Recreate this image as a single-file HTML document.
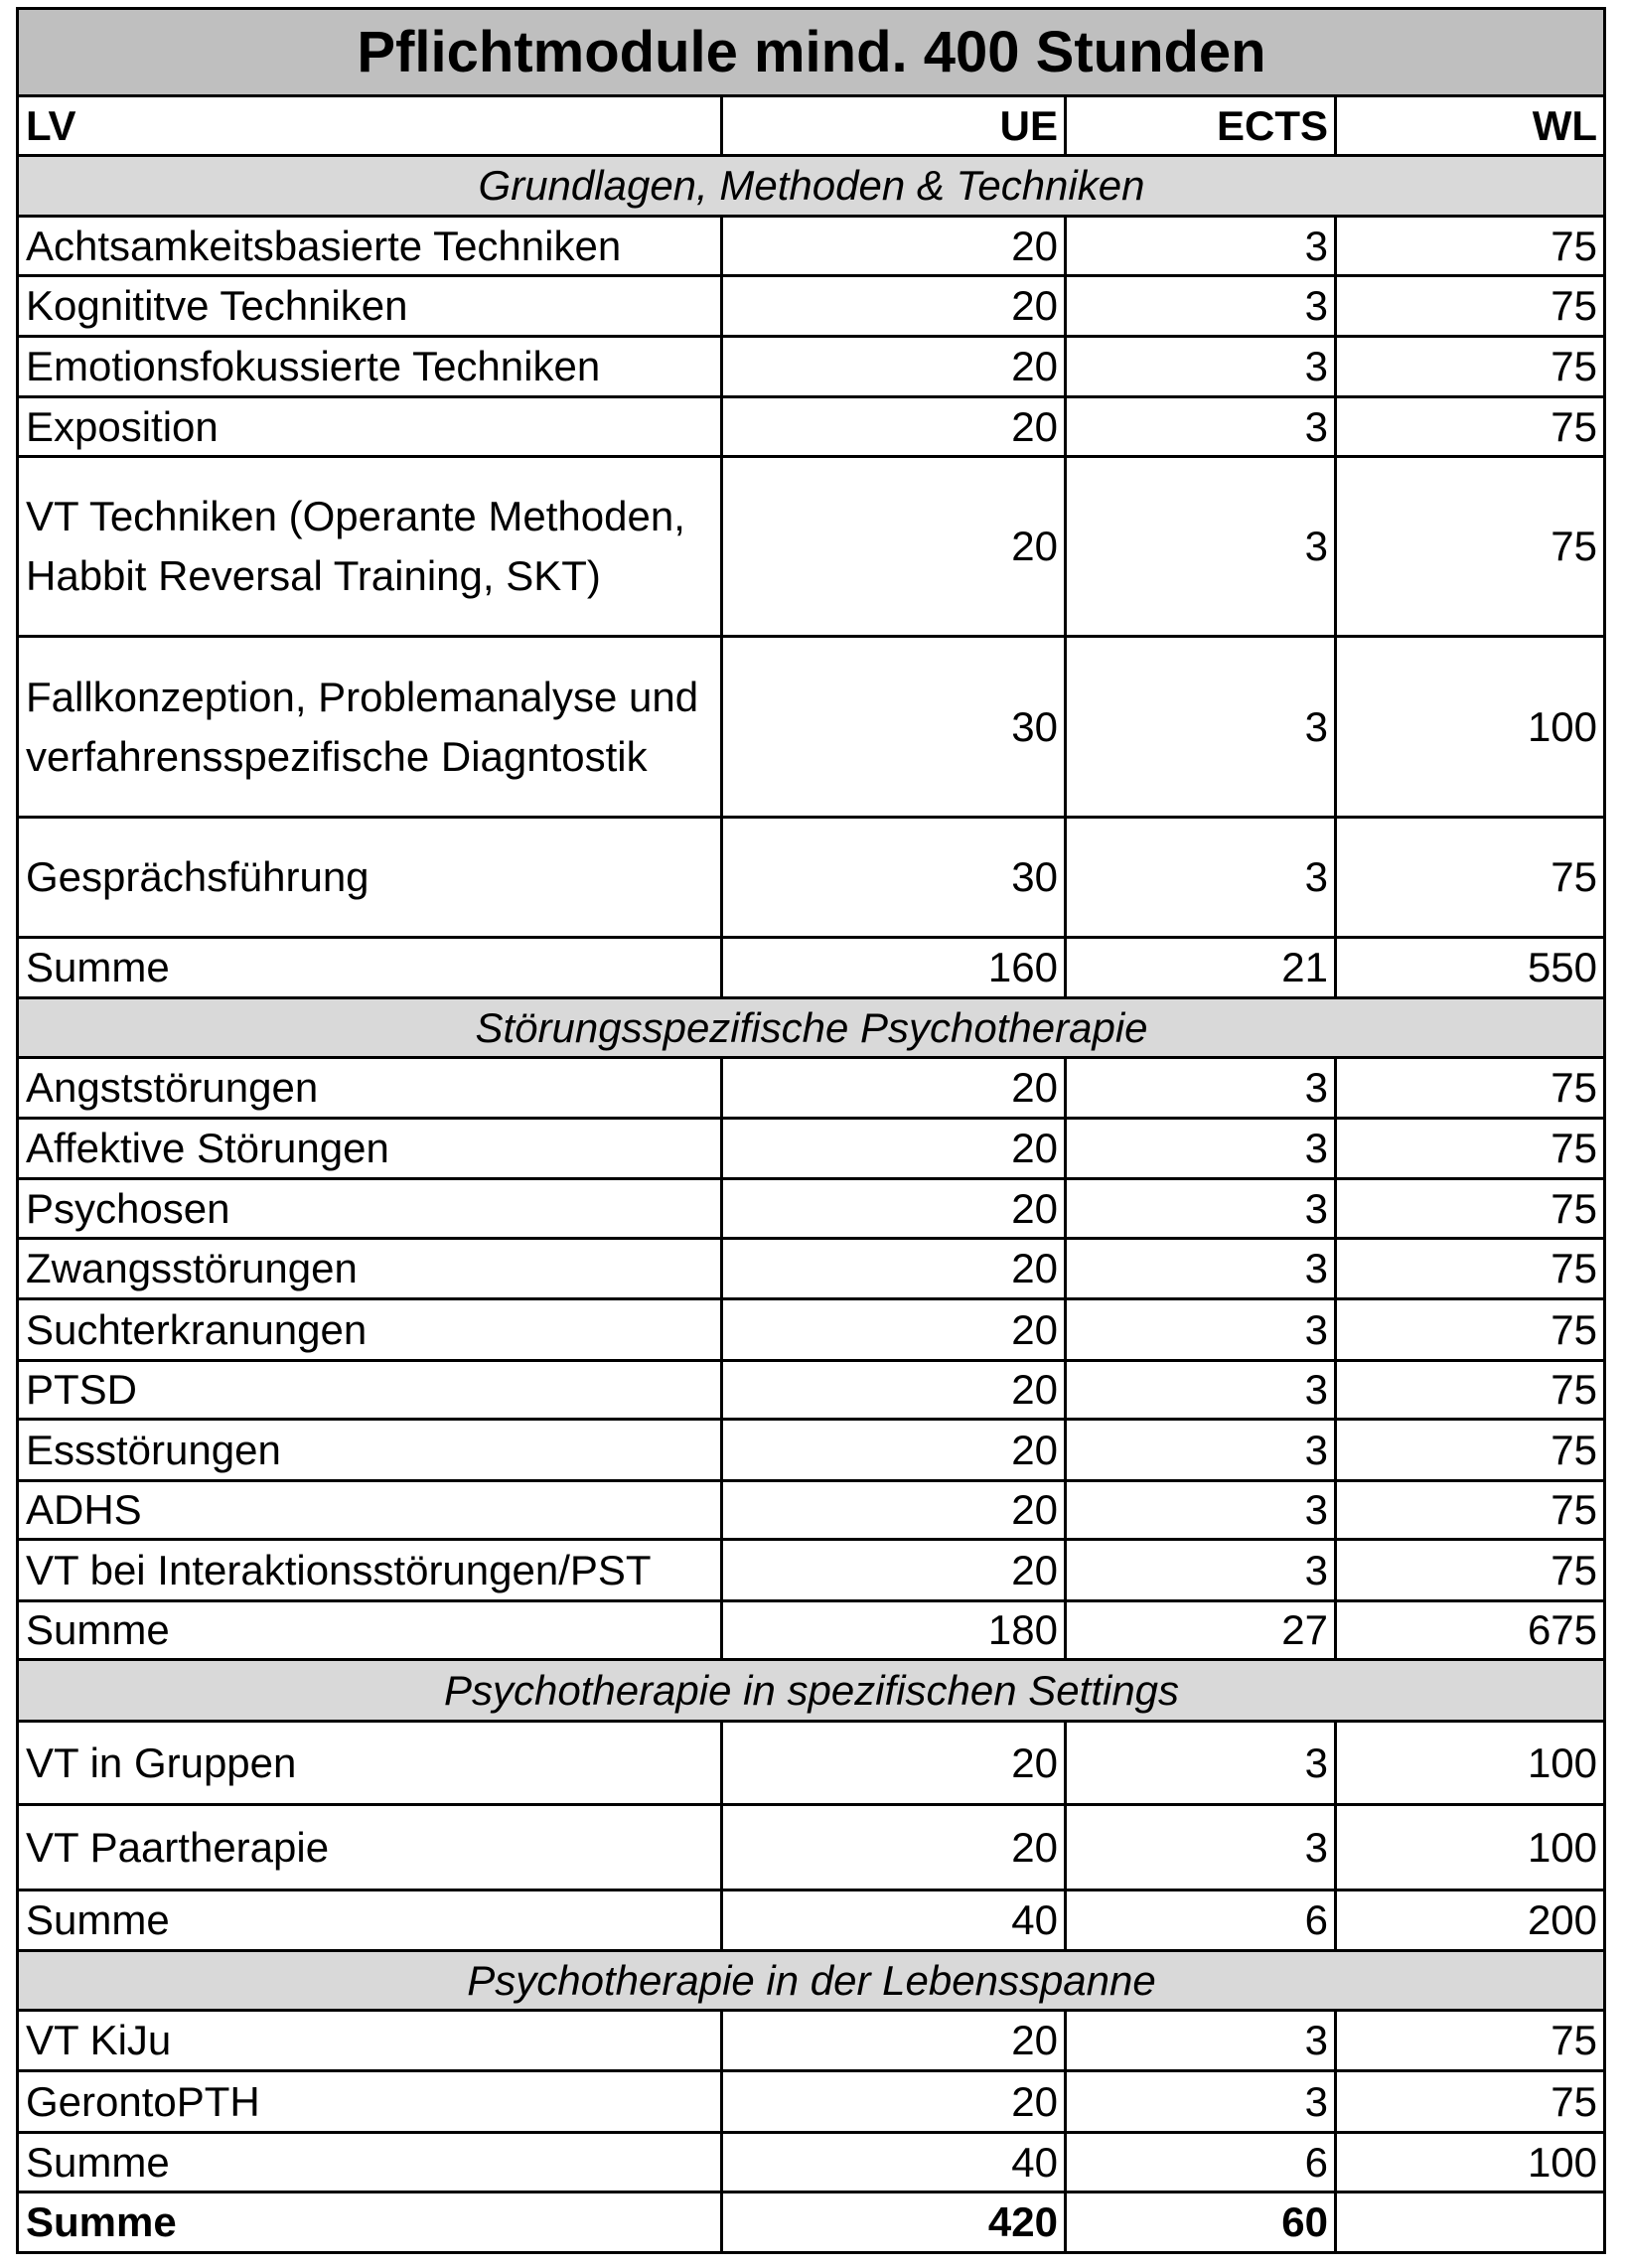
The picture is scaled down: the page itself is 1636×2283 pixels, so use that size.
<!DOCTYPE html>
<html><head><meta charset="utf-8"><style>
body{margin:0;background:#fff;width:1636px;height:2283px;overflow:hidden}
table{position:absolute;left:16px;top:7px;border-collapse:collapse;table-layout:fixed;width:1598px;font-family:"Liberation Sans",sans-serif;font-size:42px;color:#000}
td{border:3px solid #000;padding:0 6px 0 7px;white-space:nowrap;vertical-align:middle;overflow:hidden}
td.n{text-align:right}
tr.t td{background:#bfbfbf;text-align:center;font-weight:bold;font-size:58px}
tr.s td{background:#d9d9d9;text-align:center;font-style:italic}
tr.h td{font-weight:bold}
tr.b td{font-weight:bold}
.two{line-height:60px}
</style></head><body>
<table>
<colgroup><col style="width:709px"><col style="width:346px"><col style="width:272px"><col style="width:271px"></colgroup>
<tr class="t" style="height:88px"><td colspan="4">Pflichtmodule mind. 400 Stunden</td></tr>
<tr class="h" style="height:60px"><td>LV</td><td class="n">UE</td><td class="n">ECTS</td><td class="n">WL</td></tr>
<tr class="s" style="height:61px"><td colspan="4">Grundlagen, Methoden &amp; Techniken</td></tr>
<tr style="height:60px"><td>Achtsamkeitsbasierte Techniken</td><td class="n">20</td><td class="n">3</td><td class="n">75</td></tr>
<tr style="height:61px"><td>Kognititve Techniken</td><td class="n">20</td><td class="n">3</td><td class="n">75</td></tr>
<tr style="height:61px"><td>Emotionsfokussierte Techniken</td><td class="n">20</td><td class="n">3</td><td class="n">75</td></tr>
<tr style="height:60px"><td>Exposition</td><td class="n">20</td><td class="n">3</td><td class="n">75</td></tr>
<tr style="height:181px"><td class="two">VT Techniken (Operante Methoden,<br>Habbit Reversal Training, SKT)</td><td class="n">20</td><td class="n">3</td><td class="n">75</td></tr>
<tr style="height:182px"><td class="two">Fallkonzeption, Problemanalyse und<br>verfahrensspezifische Diagntostik</td><td class="n">30</td><td class="n">3</td><td class="n">100</td></tr>
<tr style="height:121px"><td>Gesprächsführung</td><td class="n">30</td><td class="n">3</td><td class="n">75</td></tr>
<tr style="height:61px"><td>Summe</td><td class="n">160</td><td class="n">21</td><td class="n">550</td></tr>
<tr class="s" style="height:60px"><td colspan="4">Störungsspezifische Psychotherapie</td></tr>
<tr style="height:61px"><td>Angststörungen</td><td class="n">20</td><td class="n">3</td><td class="n">75</td></tr>
<tr style="height:61px"><td>Affektive Störungen</td><td class="n">20</td><td class="n">3</td><td class="n">75</td></tr>
<tr style="height:60px"><td>Psychosen</td><td class="n">20</td><td class="n">3</td><td class="n">75</td></tr>
<tr style="height:61px"><td>Zwangsstörungen</td><td class="n">20</td><td class="n">3</td><td class="n">75</td></tr>
<tr style="height:62px"><td>Suchterkranungen</td><td class="n">20</td><td class="n">3</td><td class="n">75</td></tr>
<tr style="height:59px"><td>PTSD</td><td class="n">20</td><td class="n">3</td><td class="n">75</td></tr>
<tr style="height:62px"><td>Essstörungen</td><td class="n">20</td><td class="n">3</td><td class="n">75</td></tr>
<tr style="height:59px"><td>ADHS</td><td class="n">20</td><td class="n">3</td><td class="n">75</td></tr>
<tr style="height:62px"><td>VT bei Interaktionsstörungen/PST</td><td class="n">20</td><td class="n">3</td><td class="n">75</td></tr>
<tr style="height:59px"><td>Summe</td><td class="n">180</td><td class="n">27</td><td class="n">675</td></tr>
<tr class="s" style="height:62px"><td colspan="4">Psychotherapie in spezifischen Settings</td></tr>
<tr style="height:84px"><td>VT in Gruppen</td><td class="n">20</td><td class="n">3</td><td class="n">100</td></tr>
<tr style="height:86px"><td>VT Paartherapie</td><td class="n">20</td><td class="n">3</td><td class="n">100</td></tr>
<tr style="height:61px"><td>Summe</td><td class="n">40</td><td class="n">6</td><td class="n">200</td></tr>
<tr class="s" style="height:60px"><td colspan="4">Psychotherapie in der Lebensspanne</td></tr>
<tr style="height:61px"><td>VT KiJu</td><td class="n">20</td><td class="n">3</td><td class="n">75</td></tr>
<tr style="height:62px"><td>GerontoPTH</td><td class="n">20</td><td class="n">3</td><td class="n">75</td></tr>
<tr style="height:60px"><td>Summe</td><td class="n">40</td><td class="n">6</td><td class="n">100</td></tr>
<tr class="b" style="height:61px"><td>Summe</td><td class="n">420</td><td class="n">60</td><td class="n"></td></tr>
</table>
</body></html>
